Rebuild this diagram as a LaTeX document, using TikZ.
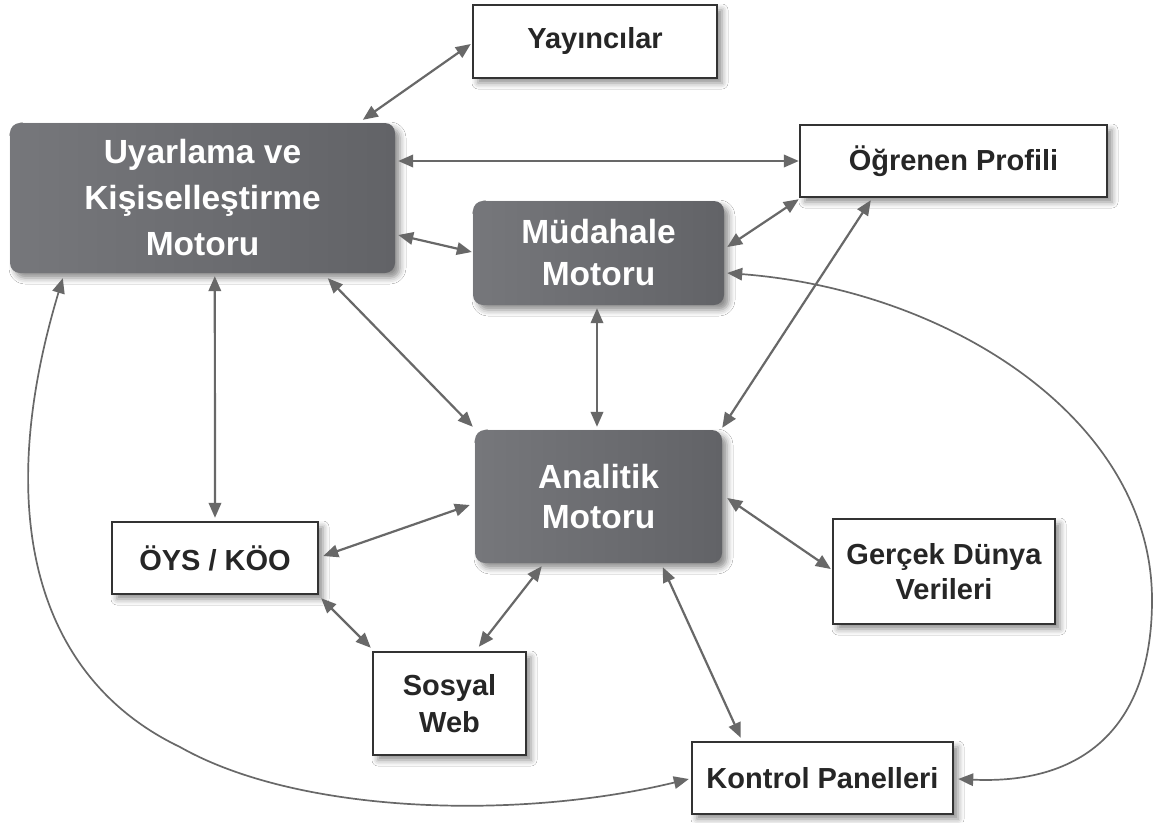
\documentclass[tikz,border=0pt]{standalone}
\usepackage{fontspec}
\setmainfont{Liberation Sans}
\usetikzlibrary{arrows.meta,shadows.blur}

\definecolor{linkgray}{HTML}{686868}
\definecolor{boxline}{HTML}{333333}
\definecolor{boxtext}{HTML}{262626}
\definecolor{engineL}{HTML}{76777B}
\definecolor{engineR}{HTML}{626367}

\tikzset{
  softshadow/.style={blur shadow={shadow xshift=5pt, shadow yshift=-5pt,
      shadow blur radius=6pt, shadow opacity=45}},
  plainbox/.style={draw=boxline, line width=2.4pt, fill=white, text=boxtext,
      inner sep=0pt, align=center, softshadow,
      font=\fontsize{29}{36}\selectfont\bfseries},
  enginebox/.style={rounded corners=10pt, left color=engineL, right color=engineR,
      text=white, inner sep=0pt, align=center, softshadow,
      font=\fontsize{33.5}{44}\selectfont\bfseries},
  link/.style={draw=linkgray, line width=2.2pt,
      {Triangle[length=15pt,width=12.5pt]}-{Triangle[length=15pt,width=12.5pt]}},
  curvelink/.style={link, line width=1.7pt},
}

\begin{document}
\begin{tikzpicture}[x=1pt,y=-1pt]
\fill[white] (0,0) rectangle (1161,822);
\useasboundingbox (0,0) rectangle (1161,822);

% engines
\node[enginebox, minimum width=385pt, minimum height=150pt,
      font=\fontsize{33.5}{46}\selectfont\bfseries] (U) at (202.5,198)
      {Uyarlama ve\\Kişiselleştirme\\Motoru};
\node[enginebox, minimum width=251pt, minimum height=104pt,
      font=\fontsize{33.5}{42}\selectfont\bfseries] (M) at (598.5,253)
      {Müdahale\\Motoru};
\node[enginebox, minimum width=247pt, minimum height=133pt,
      font=\fontsize{33.5}{40}\selectfont\bfseries] (A) at (598.5,496.5)
      {Analitik\\Motoru};

% plain boxes
\node[plainbox, minimum width=244pt, minimum height=73pt] (Y) at (595,41.5) {Yayıncılar};
\node[plainbox, minimum width=307pt, minimum height=72pt] (O) at (953.5,161) {Öğrenen Profili};
\node[plainbox, minimum width=206pt, minimum height=72pt] (L) at (215,558) {ÖYS / KÖO};
\node[plainbox, minimum width=153pt, minimum height=103pt,
      font=\fontsize{29}{37}\selectfont\bfseries] (S) at (449.5,703.5) {Sosyal\\Web};
\node[plainbox, minimum width=222pt, minimum height=105pt,
      font=\fontsize{29}{35}\selectfont\bfseries] (G) at (944,571.5) {Gerçek Dünya\\Verileri};
\node[plainbox, minimum width=261pt, minimum height=72pt] (K) at (822.5,778) {Kontrol Panelleri};

% straight connectors
\draw[link] ([shift={(353,-3)}]U.north west) -- ([shift={(-1,2.5)}]Y.west);
\draw[link] ([shift={(3,-37)}]U.east) -- (O.west);
\draw[link] ([shift={(3,37)}]U.east) -- ([shift={(-1,-1)}]M.west);
\draw[link] ([shift={(318,5)}]U.south west) -- ([shift={(-2,-3)}]A.north west);
\draw[link] ([shift={(205,3)}]U.south west) -- ([shift={(0,-3)}]L.north);
\draw[link] ([shift={(3,-6)}]M.east) -- ([shift={(0,1)}]O.south west);
\draw[link] ([shift={(-1.5,3)}]M.south) -- ([shift={(-1.5,-3)}]A.north);
\draw[link] ([shift={(72,2)}]O.south west) -- ([shift={(0,-2)}]A.north east);
\draw[link] ([shift={(-5,8.5)}]A.west) -- ([shift={(4,-2)}]L.east);
\draw[link] ([shift={(2,3)}]L.south east) -- ([shift={(-1,-3)}]S.north west);
\draw[link] ([shift={(67,3)}]A.south west) -- ([shift={(107,-4)}]S.north west);
\draw[link] ([shift={(5,1.5)}]A.east) -- ([shift={(-1,-2.5)}]G.west);
\draw[link] ([shift={(188,4)}]A.south west) -- ([shift={(50,-3)}]K.north west);

% long curved connectors
\coordinate (lowleft) at (180,747);
\coordinate (farright) at (1152,600);
\draw[curvelink] ([shift={(53,5)}]U.south west)
   .. controls (-10,520) and (40,680) .. (lowleft)
   .. controls (300,815) and (520,820) .. ([shift={(-2,1)}]K.west);
\draw[curvelink] ([shift={(3,20)}]M.east)
   .. controls (950,290) and (1152,420) .. (farright)
   .. controls (1152,720) and (1090,785) .. ([shift={(4,1)}]K.east);
\end{tikzpicture}
\end{document}
